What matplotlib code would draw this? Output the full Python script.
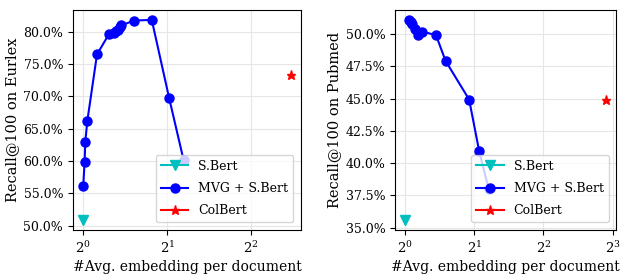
import matplotlib
matplotlib.use("Agg")
import matplotlib.pyplot as plt
from matplotlib.ticker import PercentFormatter

plt.rcParams['font.family'] = ['DejaVu Serif']
plt.rcParams['mathtext.fontset'] = 'dejavuserif'

# Eurlex
eur_sbert_x = [1.0]
eur_sbert_y = [50.9]
eur_mvg_x = [1.0, 1.011, 1.017, 1.034, 1.12, 1.234, 1.29, 1.31, 1.33, 1.35, 1.37, 1.52, 1.76, 2.03, 2.29]
eur_mvg_y = [56.2, 59.8, 63.0, 66.2, 76.5, 79.6, 79.85, 80.1, 80.35, 80.7, 81.0, 81.75, 81.85, 69.8, 60.1]
eur_colbert_x = [5.53]
eur_colbert_y = [73.4]

# Pubmed
pub_sbert_x = [1.0]
pub_sbert_y = [35.6]
pub_mvg_x = [1.04, 1.06, 1.075, 1.10, 1.136, 1.185, 1.364, 1.50, 1.90, 2.10, 2.31]
pub_mvg_y = [51.1, 50.95, 50.75, 50.4, 49.9, 50.2, 49.92, 47.93, 44.93, 40.95, 38.0]
pub_colbert_x = [7.49]
pub_colbert_y = [44.93]

fig = plt.figure(figsize=(6.23, 2.75), dpi=100)
ax1 = fig.add_axes([0.117, 0.164, 0.366, 0.80])
ax2 = fig.add_axes([0.634, 0.164, 0.355, 0.80])


def draw(ax, sx, sy, mx, my, cx, cy, ylabel, ticks):
    ax.plot(sx, sy, color='c', marker='v', markersize=6.5, linewidth=1.5, label='S.Bert')
    ax.plot(mx, my, color='b', marker='o', markersize=6.5, linewidth=1.5, label='MVG + S.Bert')
    ax.plot(cx, cy, color='r', marker='*', markersize=6.5, linewidth=1.5, label='ColBert')
    ax.set_xscale('log', base=2)
    ax.set_xticks(ticks)
    ax.minorticks_off()
    ax.yaxis.set_major_formatter(PercentFormatter(decimals=1))
    ax.grid(True, color='#e6e6e6', linewidth=0.8)
    ax.tick_params(axis='y', labelsize=9)
    ax.tick_params(axis='x', labelsize=9.5)
    ax.set_xlabel('#Avg. embedding per document', fontsize=10, labelpad=3)
    ax.set_ylabel(ylabel, fontsize=10.5, labelpad=3)
    ax.legend(loc='lower right', fontsize=9, handlelength=2.2, borderaxespad=0.6,
              labelspacing=0.75)


draw(ax1, eur_sbert_x, eur_sbert_y, eur_mvg_x, eur_mvg_y, eur_colbert_x, eur_colbert_y,
     'Recall@100 on Eurlex', [1, 2, 4])
draw(ax2, pub_sbert_x, pub_sbert_y, pub_mvg_x, pub_mvg_y, pub_colbert_x, pub_colbert_y,
     'Recall@100 on Pubmed', [1, 2, 4, 8])

fig.savefig('out.png', dpi=100)
